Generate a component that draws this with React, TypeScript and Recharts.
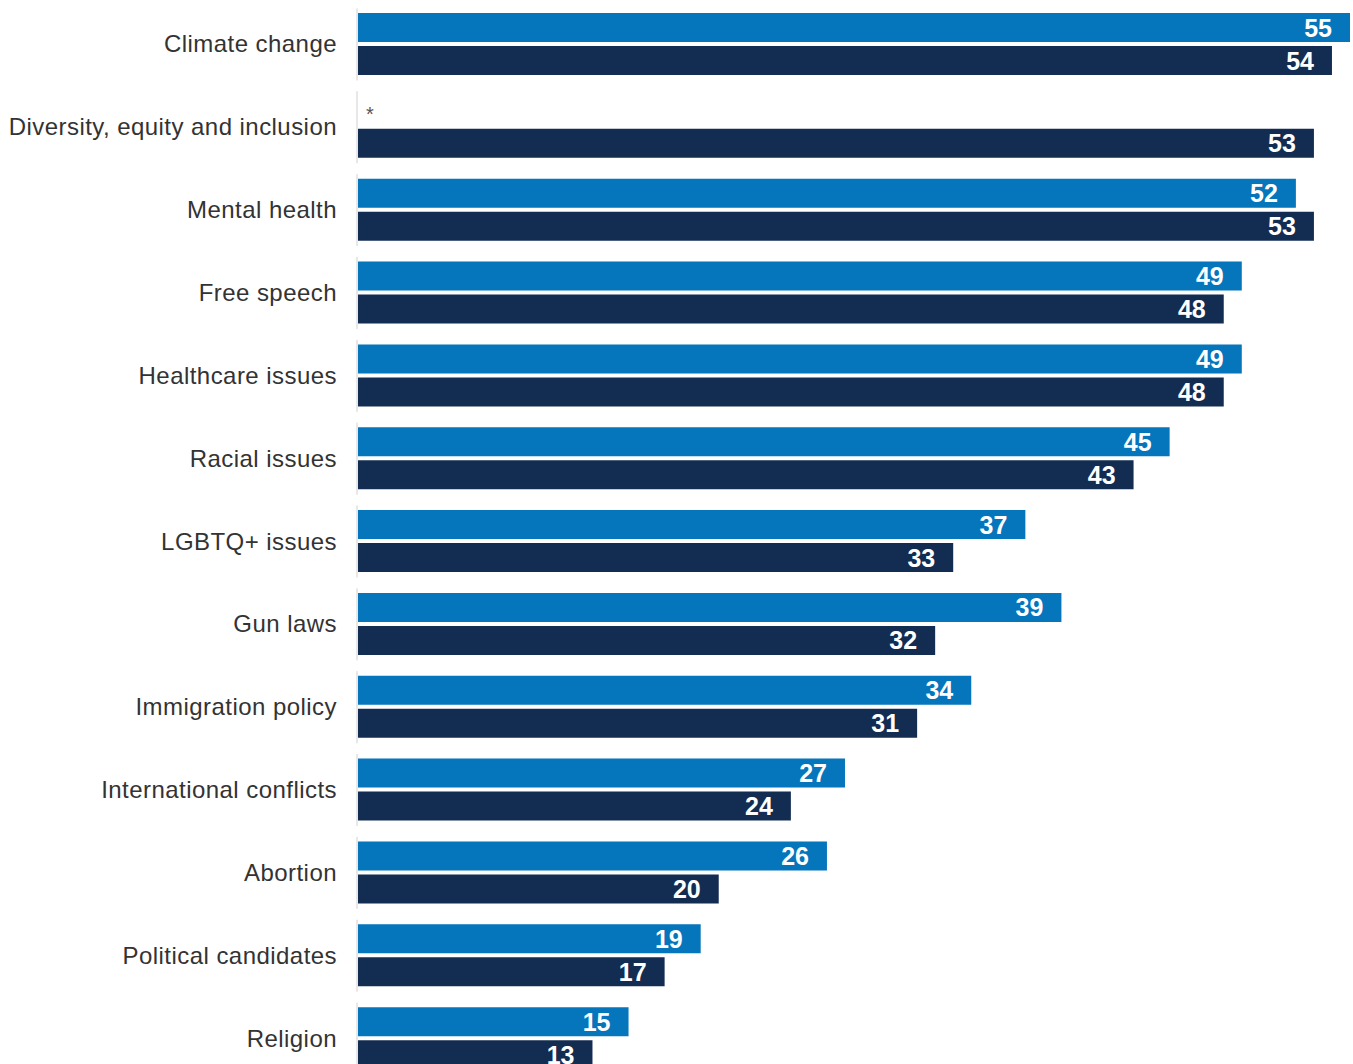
import { BarChart, Bar, XAxis, YAxis, LabelList } from 'recharts'

const categories = [
  'Climate change',
  'Diversity, equity and inclusion',
  'Mental health',
  'Free speech',
  'Healthcare issues',
  'Racial issues',
  'LGBTQ+ issues',
  'Gun laws',
  'Immigration policy',
  'International conflicts',
  'Abortion',
  'Political candidates',
  'Religion',
]
// null = not asked that wave (shown as *)
const prevWave: (number | null)[] = [55, null, 52, 49, 49, 45, 37, 39, 34, 27, 26, 19, 15]
const currWave: number[] = [54, 53, 53, 48, 48, 43, 33, 32, 31, 24, 20, 17, 13]

const data = categories.map((name, i) => ({ name, prev: prevWave[i], curr: currWave[i] }))

const FONT = '"Liberation Sans", Arial, Helvetica, sans-serif'
const BAR_SIZE = 29
const BAR_GAP = 4

function CategoryTick(props: any) {
  const { x, y, payload } = props
  return (
    <g>
      <line x1={x + 20} x2={x + 20} y1={y - 36} y2={y + 36} stroke="#d0d0d0" strokeWidth={1} />
      <text x={x} y={y} dy={8} textAnchor="end" fontSize={24} fill="#333" fontFamily={FONT} letterSpacing={0.45}>
        {payload.value}
      </text>
    </g>
  )
}

function ValueLabel(props: any) {
  const { x, y, width, height, value } = props
  return (
    <text
      x={x + width - 18}
      y={y + height / 2}
      dy={9}
      textAnchor="end"
      fontSize={25}
      fontWeight="bold"
      fill="#fff"
      fontFamily={FONT}
    >
      {value}
    </text>
  )
}

// current-wave label; also marks the empty previous-wave slot above it with *
function CurrLabel(props: any) {
  const { x, y, index } = props
  const missing = prevWave[index] == null
  return (
    <g>
      <ValueLabel {...props} />
      {missing && (
        <text x={x + 8} y={y - BAR_GAP - BAR_SIZE / 2 + 11} fontSize={20} fill="#555" fontFamily={FONT}>
          *
        </text>
      )}
    </g>
  )
}

export default function App() {
  return (
    <div style={{ position: 'absolute', top: 0, left: 0, background: '#fff' }}>
      <BarChart
        width={1353}
        height={1082}
        data={data}
        layout="vertical"
        margin={{ top: 3, right: 3, bottom: 2, left: 0 }}
        barSize={BAR_SIZE}
        barGap={BAR_GAP}
      >
        <XAxis type="number" domain={[0, 55]} hide />
        <YAxis
          type="category"
          dataKey="name"
          width={358}
          axisLine={false}
          tickLine={false}
          tickSize={0}
          tickMargin={21}
          interval={0}
          tick={<CategoryTick />}
        />
        <Bar dataKey="prev" fill="#0575BC" isAnimationActive={false}>
          <LabelList content={<ValueLabel />} />
        </Bar>
        <Bar dataKey="curr" fill="#132C52" isAnimationActive={false}>
          <LabelList content={<CurrLabel />} />
        </Bar>
      </BarChart>
    </div>
  )
}
